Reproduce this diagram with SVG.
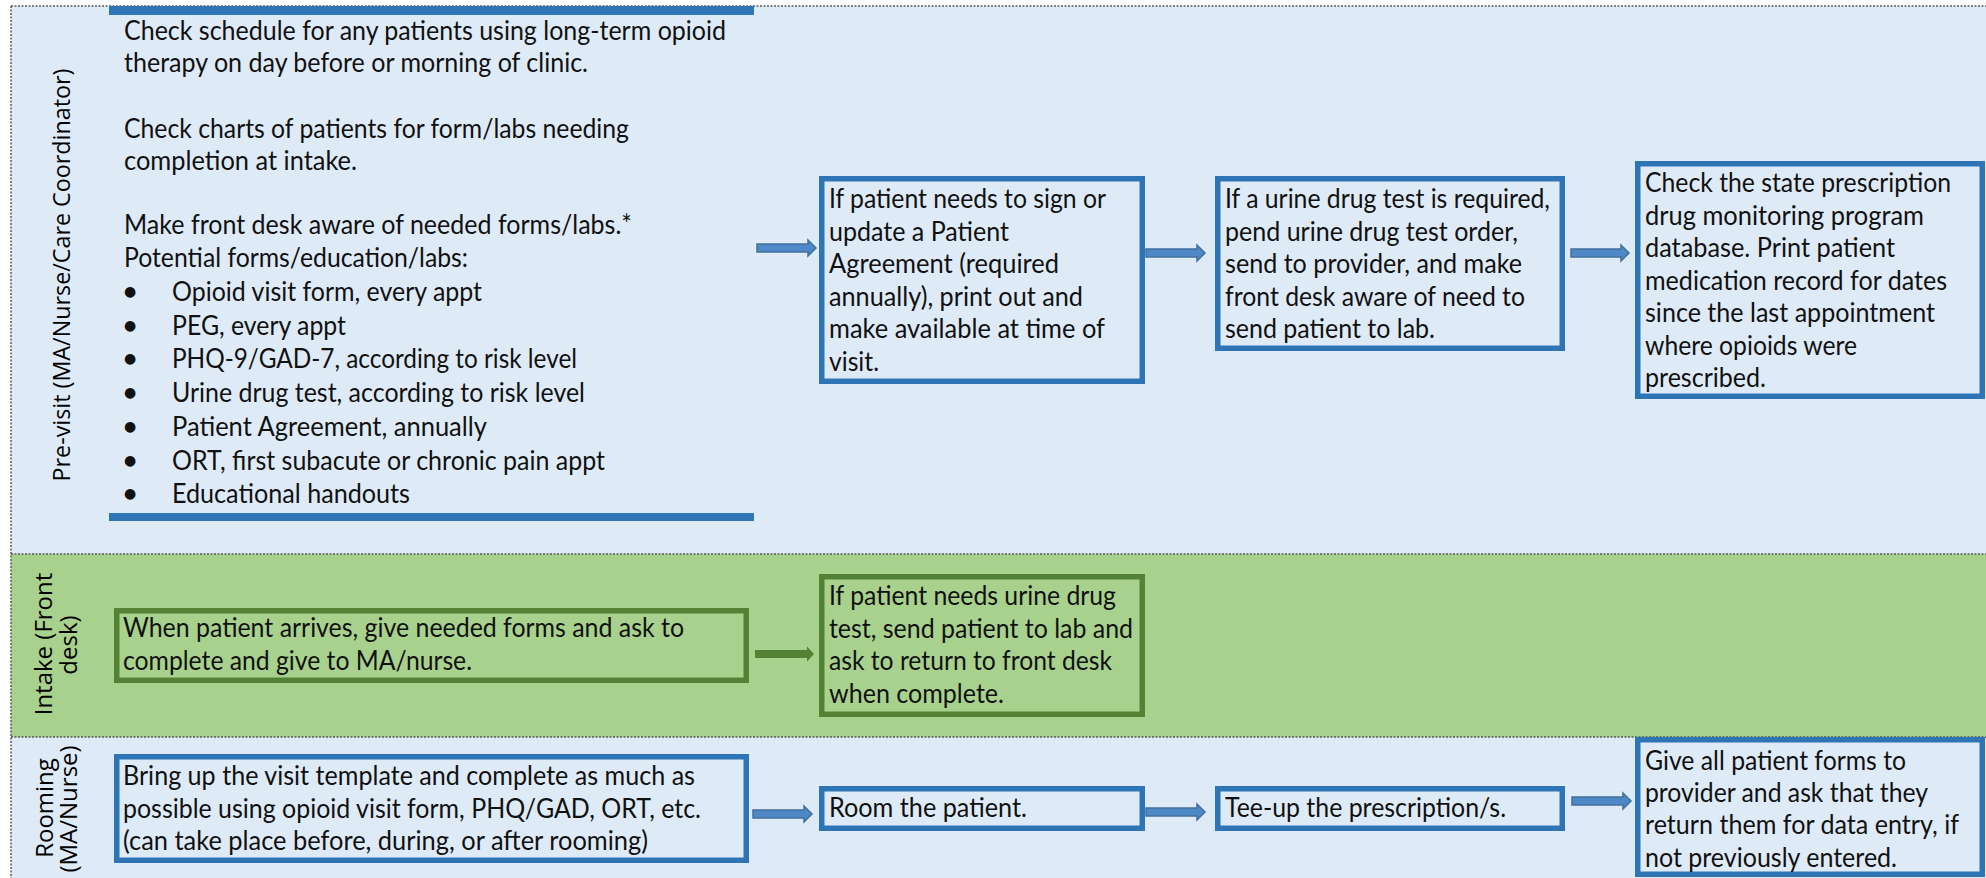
<svg xmlns="http://www.w3.org/2000/svg" width="1986" height="878" viewBox="0 0 1986 878">
<style>
.lane-b{fill:#DEEBF7}
.lane-g{fill:#A9D18E}
.div{stroke:#5a5a5a;stroke-width:1.5;stroke-dasharray:2 1.5;fill:none}
.lbl{font-family:"Open Sans","Noto Sans",sans-serif;font-size:24px;fill:#000;text-anchor:middle}
.t{font-family:Lato,"Liberation Sans",sans-serif;font-size:26px;fill:#111}
.bul{font-family:"DejaVu Sans",sans-serif;font-size:14px;fill:#111}
.bb{fill:#DEEBF7;stroke:#2E75B6;stroke-width:5.5}
.gb{fill:#A9D18E;stroke:#548235;stroke-width:5.5}
.bar{fill:#2E75B6}
.ab{fill:#4F88C6;stroke:#41719C;stroke-width:1.5}
.ag{fill:#548235}
</style>
<g id="lanes">
<rect class="lane-b" x="11" y="6" width="1975" height="548"/>
<rect class="lane-g" x="11" y="554" width="1975" height="183"/>
<rect class="lane-b" x="11" y="737" width="1975" height="141"/>
<path class="div" d="M11,6 H1986 M11,554 H1986 M11,737 H1986 M11,6 V878"/>
<text class="lbl" transform="translate(70,275) rotate(-90)" textLength="413" lengthAdjust="spacingAndGlyphs">Pre-visit (MA/Nurse/Care Coordinator)</text>
<text class="lbl" transform="translate(52,644) rotate(-90)">Intake (Front</text>
<text class="lbl" transform="translate(77,645) rotate(-90)">desk)</text>
<text class="lbl" transform="translate(53,808) rotate(-90)">Rooming</text>
<text class="lbl" transform="translate(77,809) rotate(-90)">(MA/Nurse)</text>
</g>
<g id="connectors">
<path class="ab" d="M757,244 L808,244 L808,240 L816,248 L808,256 L808,252 L757,252 Z"/>
<path class="ab" d="M1146,249 L1197,249 L1197,245 L1205,253 L1197,261 L1197,257 L1146,257 Z"/>
<path class="ab" d="M1571,249 L1621,249 L1621,245 L1629,253 L1621,261 L1621,257 L1571,257 Z"/>
<path class="ag" d="M755,650 L807,650 L807,646.5 L814,654 L807,661.5 L807,658 L755,658 Z"/>
<path class="ab" d="M753,810 L804,810 L804,806 L812,814 L804,822 L804,818 L753,818 Z"/>
<path class="ab" d="M1146,808 L1197,808 L1197,804 L1205,812 L1197,820 L1197,816 L1146,816 Z"/>
<path class="ab" d="M1572,797 L1623,797 L1623,793 L1631,801 L1623,809 L1623,805 L1572,805 Z"/>
</g>
<g id="previsit-tasks">
<rect class="bar" x="109" y="6" width="645" height="9"/>
<rect class="bar" x="109" y="513" width="645" height="8"/>
<text class="t" x="124" y="39.6" textLength="602" lengthAdjust="spacingAndGlyphs">Check schedule for any patients using long-term opioid</text>
<text class="t" x="124" y="72.3" textLength="464" lengthAdjust="spacingAndGlyphs">therapy on day before or morning of clinic.</text>
<text class="t" x="124" y="137.7" textLength="505" lengthAdjust="spacingAndGlyphs">Check charts of patients for form/labs needing</text>
<text class="t" x="124" y="170.4" textLength="233" lengthAdjust="spacingAndGlyphs">completion at intake.</text>
<text class="t" x="124" y="234.2" textLength="508" lengthAdjust="spacingAndGlyphs">Make front desk aware of needed forms/labs.*</text>
<text class="t" x="124" y="266.9" textLength="344" lengthAdjust="spacingAndGlyphs">Potential forms/education/labs:</text>
<text class="bul" x="124" y="296">●</text>
<text class="bul" x="124" y="329.5">●</text>
<text class="bul" x="124" y="363">●</text>
<text class="bul" x="124" y="396.5">●</text>
<text class="bul" x="124" y="430.5">●</text>
<text class="bul" x="124" y="464.5">●</text>
<text class="bul" x="124" y="498">●</text>
<text class="t" x="172" y="301" textLength="310" lengthAdjust="spacingAndGlyphs">Opioid visit form, every appt</text>
<text class="t" x="172" y="334.5" textLength="174" lengthAdjust="spacingAndGlyphs">PEG, every appt</text>
<text class="t" x="172" y="368" textLength="405" lengthAdjust="spacingAndGlyphs">PHQ-9/GAD-7, according to risk level</text>
<text class="t" x="172" y="401.5" textLength="413" lengthAdjust="spacingAndGlyphs">Urine drug test, according to risk level</text>
<text class="t" x="172" y="435.5" textLength="315" lengthAdjust="spacingAndGlyphs">Patient Agreement, annually</text>
<text class="t" x="172" y="469.5" textLength="433" lengthAdjust="spacingAndGlyphs">ORT, first subacute or chronic pain appt</text>
<text class="t" x="172" y="503" textLength="238" lengthAdjust="spacingAndGlyphs">Educational handouts</text>
</g>
<g id="patient-agreement">
<rect class="bb" x="821.75" y="178.75" width="320.5" height="202.5"/>
<text class="t" x="829" y="208" textLength="277" lengthAdjust="spacingAndGlyphs">If patient needs to sign or</text>
<text class="t" x="829" y="240.5" textLength="180" lengthAdjust="spacingAndGlyphs">update a Patient</text>
<text class="t" x="829" y="273" textLength="230" lengthAdjust="spacingAndGlyphs">Agreement (required</text>
<text class="t" x="829" y="305.5" textLength="254" lengthAdjust="spacingAndGlyphs">annually), print out and</text>
<text class="t" x="829" y="338" textLength="276" lengthAdjust="spacingAndGlyphs">make available at time of</text>
<text class="t" x="829" y="370.5" textLength="50" lengthAdjust="spacingAndGlyphs">visit.</text>
</g>
<g id="urine-test-order">
<rect class="bb" x="1217.75" y="178.75" width="344.5" height="169.5"/>
<text class="t" x="1225" y="208" textLength="325" lengthAdjust="spacingAndGlyphs">If a urine drug test is required,</text>
<text class="t" x="1225" y="240.5" textLength="293" lengthAdjust="spacingAndGlyphs">pend urine drug test order,</text>
<text class="t" x="1225" y="273" textLength="297" lengthAdjust="spacingAndGlyphs">send to provider, and make</text>
<text class="t" x="1225" y="305.5" textLength="300" lengthAdjust="spacingAndGlyphs">front desk aware of need to</text>
<text class="t" x="1225" y="338" textLength="210" lengthAdjust="spacingAndGlyphs">send patient to lab.</text>
</g>
<g id="pdmp-check">
<rect class="bb" x="1637.75" y="163.75" width="344.5" height="232.5"/>
<text class="t" x="1645" y="192" textLength="306" lengthAdjust="spacingAndGlyphs">Check the state prescription</text>
<text class="t" x="1645" y="224.5" textLength="279" lengthAdjust="spacingAndGlyphs">drug monitoring program</text>
<text class="t" x="1645" y="257" textLength="250" lengthAdjust="spacingAndGlyphs">database. Print patient</text>
<text class="t" x="1645" y="289.5" textLength="302" lengthAdjust="spacingAndGlyphs">medication record for dates</text>
<text class="t" x="1645" y="322" textLength="290" lengthAdjust="spacingAndGlyphs">since the last appointment</text>
<text class="t" x="1645" y="354.5" textLength="212" lengthAdjust="spacingAndGlyphs">where opioids were</text>
<text class="t" x="1645" y="387" textLength="121" lengthAdjust="spacingAndGlyphs">prescribed.</text>
</g>
<g id="intake-forms">
<rect class="gb" x="116.75" y="610.75" width="629.5" height="69.5"/>
<text class="t" x="123" y="637" textLength="561" lengthAdjust="spacingAndGlyphs">When patient arrives, give needed forms and ask to</text>
<text class="t" x="123" y="670" textLength="349" lengthAdjust="spacingAndGlyphs">complete and give to MA/nurse.</text>
</g>
<g id="intake-lab">
<rect class="gb" x="821.75" y="576.75" width="320.5" height="137.5"/>
<text class="t" x="829" y="605" textLength="287" lengthAdjust="spacingAndGlyphs">If patient needs urine drug</text>
<text class="t" x="829" y="637.5" textLength="304" lengthAdjust="spacingAndGlyphs">test, send patient to lab and</text>
<text class="t" x="829" y="670" textLength="283" lengthAdjust="spacingAndGlyphs">ask to return to front desk</text>
<text class="t" x="829" y="702.5" textLength="175" lengthAdjust="spacingAndGlyphs">when complete.</text>
</g>
<g id="rooming-template">
<rect class="bb" x="116.75" y="756.75" width="629.5" height="103.5"/>
<text class="t" x="123" y="785" textLength="572" lengthAdjust="spacingAndGlyphs">Bring up the visit template and complete as much as</text>
<text class="t" x="123" y="817.5" textLength="578" lengthAdjust="spacingAndGlyphs">possible using opioid visit form, PHQ/GAD, ORT, etc.</text>
<text class="t" x="123" y="850" textLength="525" lengthAdjust="spacingAndGlyphs">(can take place before, during, or after rooming)</text>
</g>
<g id="room-patient">
<rect class="bb" x="821.75" y="788.75" width="320.5" height="39.5"/>
<text class="t" x="829" y="817" textLength="198" lengthAdjust="spacingAndGlyphs">Room the patient.</text>
</g>
<g id="tee-up">
<rect class="bb" x="1217.75" y="788.75" width="344.5" height="39.5"/>
<text class="t" x="1225" y="817" textLength="281" lengthAdjust="spacingAndGlyphs">Tee-up the prescription/s.</text>
</g>
<g id="give-forms">
<rect class="bb" x="1637.75" y="739.75" width="344.5" height="134.5"/>
<text class="t" x="1645" y="770" textLength="261" lengthAdjust="spacingAndGlyphs">Give all patient forms to</text>
<text class="t" x="1645" y="802" textLength="283" lengthAdjust="spacingAndGlyphs">provider and ask that they</text>
<text class="t" x="1645" y="834" textLength="314" lengthAdjust="spacingAndGlyphs">return them for data entry, if</text>
<text class="t" x="1645" y="867" textLength="252" lengthAdjust="spacingAndGlyphs">not previously entered.</text>
</g>
</svg>
